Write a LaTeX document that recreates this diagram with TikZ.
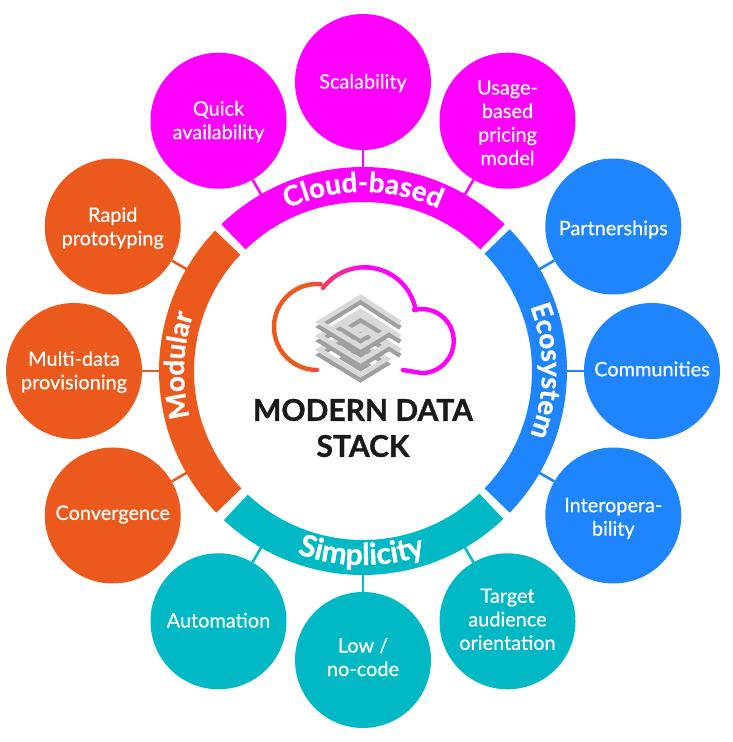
\documentclass[tikz,border=0pt]{standalone}
\usepackage{fontspec}
\setmainfont[FakeBold=0.35,BoldFeatures={FakeBold=1.1}]{Lato}
\usetikzlibrary{decorations.text}
\definecolor{cmag}{HTML}{FF00FF}
\definecolor{cblue}{HTML}{1E85FF}
\definecolor{cteal}{HTML}{00B9C4}
\definecolor{corg}{HTML}{EC591D}
\definecolor{ctitle}{HTML}{1A1A1A}
\definecolor{icolight}{HTML}{D9D9D9}
\definecolor{icodark}{HTML}{A0A0A0}
\tikzset{
 bub/.style={circle,minimum size=136pt,inner sep=0pt},
 bubtext/.style={align=center,text=white,inner sep=0pt,font=\fontsize{19.9}{23.5}\selectfont},
 link/.style={line width=2.6pt},
 ringlabel/.style 2 args={decorate,decoration={text along path,text align=center,text color=white,text={|\fontsize{#2}{#2}\selectfont\bfseries|#1}}},
 icoside/.style={icodark,line width=4.6pt,miter limit=10},
 icotop/.style={icolight,line width=4.6pt,miter limit=10},
 cloudline/.style={line width=4.4pt,line cap=round,line join=round},
}
\newcommand{\ringseg}[3]{\fill[#3] (#1:204) arc[start angle=#1,end angle=#2,radius=204] -- (#2:169) arc[start angle=#2,end angle=#1,radius=169] -- cycle;}
\newcommand{\cloudpath}{(317,372) arc[start angle=270,end angle=85,radius=43] (323,454) arc[start angle=143,end angle=10,radius=52] (414,432) arc[start angle=104,end angle=-90,radius=32] -- (403,372)}
\newcommand{\iso}[2]{(360.5+41*#1-41*#2,445-25*#1-25*#2)}
\newcommand{\spiral}{\iso{1}{0.03} -- \iso{0}{0} -- \iso{0}{1} -- \iso{1}{1} -- \iso{1}{0.36} -- \iso{0.36}{0.36} -- \iso{0.36}{0.78} -- \iso{0.78}{0.78} -- \iso{0.78}{0.62} -- \iso{0.62}{0.62}}
\begin{document}
\begin{tikzpicture}[x=1pt,y=1pt]
\useasboundingbox (0,0) rectangle (733,742);
\coordinate (c) at (363,371);
\begin{scope}[shift={(363,371)}]
\ringseg{46}{134}{cmag}
\ringseg{136.5}{224}{corg}
\ringseg{227}{313.5}{cteal}
\ringseg{-44}{44}{cblue}
\path[ringlabel={Cloud-based}{27.8}] (134:179) arc[start angle=134,end angle=46,radius=179];
\path[ringlabel={Modular}{27.5}] (222:179) arc[start angle=222,end angle=134.5,radius=179];
\path[ringlabel={Ecosystem}{27.5}] (44:179) arc[start angle=44,end angle=-44,radius=179];
\path[ringlabel={Simplicity}{30}] (226:194) arc[start angle=226,end angle=313,radius=194];
\end{scope}
\foreach \n/\a/\col/\dy/\txt in {
 a/90/cmag/-1/{Scalability},b/120/cmag/-1/{Quick\\availability},d/60/cmag/-2/{Usage-\\based\\pricing\\model},
 e/30/cblue/-3/{Partnerships},f/0/cblue/2/{Communities},g/-30/cblue/-3/{Interopera-\\bility},
 h/-60/cteal/2/{Target\\audience\\orientation},i/-90/cteal/3/{Low /\\no-code},j/-120/cteal/1/{Automation},
 k/-150/corg/1/{Convergence},l/180/corg/-1/{Multi-data\\provisioning},m/150/corg/-1.5/{Rapid\\prototyping}}{
 \coordinate (in\n) at ([shift={(\a:195)}]c);
 \node[bub,fill=\col] (\n) at ([shift={(\a:289)}]c) {};
 \node[bubtext,yshift=\dy pt] (\n t) at (\n) {\txt};
 \draw[link,\col] (\n) -- (in\n);
}
% cloud, stroked in narrow strips for the colour blend
\foreach \i in {0,...,34}{
 \pgfmathsetmacro{\mixv}{min(100,max(0,(\i*3-40)*100/60))}
 \begin{scope}
 \clip (265+\i*3,255) rectangle (265+\i*3+3.4,480);
 \colorlet{cloudmix}{cmag!\mixv!corg}
 \draw[cloudline,cloudmix] \cloudpath;
 \end{scope}
}
\begin{scope}
 \clip (367,255) rectangle (470,480);
 \draw[cloudline,cmag] \cloudpath;
\end{scope}
% data stack icon
\foreach \dy in {-28,-14,0}{
 \begin{scope}[yshift=\dy]
 \draw[icoside,yshift=-5pt] \spiral;
 \draw[icotop] \spiral;
 \end{scope}
}
\node[font=\fontsize{30}{36}\selectfont\bfseries,text=ctitle,align=center,inner sep=0pt] (title) at (363,314) {MODERN DATA\\STACK};
\end{tikzpicture}
\end{document}
